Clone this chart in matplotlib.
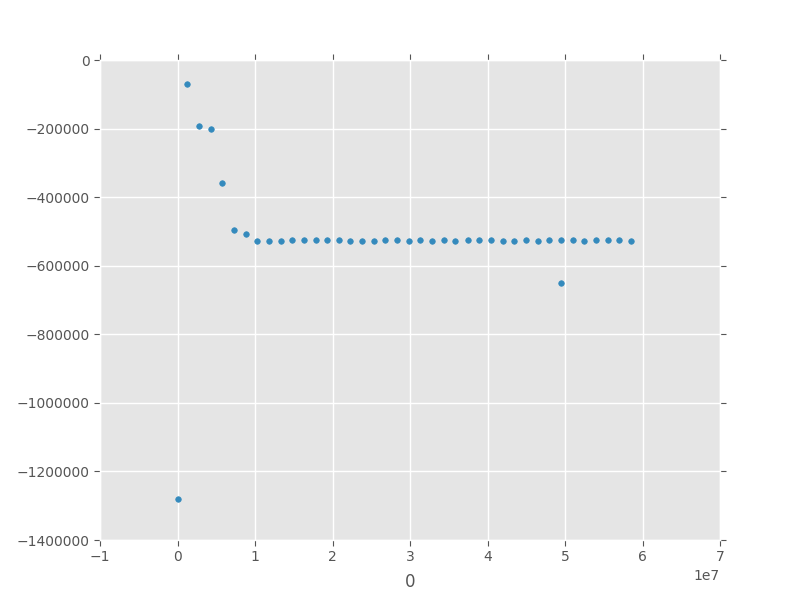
import matplotlib
matplotlib.use("Agg")
import matplotlib.pyplot as plt
from matplotlib.ticker import ScalarFormatter

plt.style.use("ggplot")

# values (x in raw units, y in raw units)
x_vals = [0, 1.17e6, 2.72e6, 4.28e6, 5.70e6, 7.26e6, 8.81e6, 10.23e6, 11.79e6,
          13.34e6, 14.76e6, 16.32e6, 17.87e6, 19.29e6, 20.85e6, 22.27e6, 23.83e6,
          25.38e6, 26.80e6, 28.36e6, 29.91e6, 31.33e6, 32.89e6, 34.45e6, 35.87e6,
          37.42e6, 38.84e6, 40.40e6, 41.95e6, 43.37e6, 44.93e6, 46.49e6, 47.90e6,
          49.46e6, 49.46e6, 51.02e6, 52.44e6, 53.99e6, 55.55e6, 56.97e6, 58.52e6]
y_vals = [-1280000, -71000, -193800, -202500, -357500, -494800, -506500, -527500,
          -527500, -527500, -525000, -525000, -525000, -525000, -525000, -527500,
          -527500, -527500, -525000, -525000, -527500, -525000, -527500, -525000,
          -527500, -525000, -525000, -525000, -527500, -527500, -525000, -527500,
          -525000, -525000, -650500, -525000, -527500, -525000, -525000, -525000,
          -527500]
x_label = "0"
y_label = "1"

fig, ax = plt.subplots(figsize=(8, 6), dpi=100)
fig.subplots_adjust(left=0.125, right=0.9, bottom=0.1, top=0.9)

ax.scatter(x_vals, y_vals, s=16, color="#348ABD", zorder=3)

ax.set_xlim(-1e7, 7e7)
ax.set_ylim(-1400000, 0)
ax.set_xlabel(x_label, fontsize=12, color="#555555", labelpad=6)
ax.set_ylabel(y_label, fontsize=12, color="#555555", labelpad=14)

yfmt = ScalarFormatter(useOffset=False)
yfmt.set_scientific(False)
ax.yaxis.set_major_formatter(yfmt)

ax.tick_params(top=True, right=True, direction="out", length=4,
               colors="#555555", labelsize=10)
ax.grid(True, color="white", linewidth=1)

fig.savefig("out.png", dpi=100)
